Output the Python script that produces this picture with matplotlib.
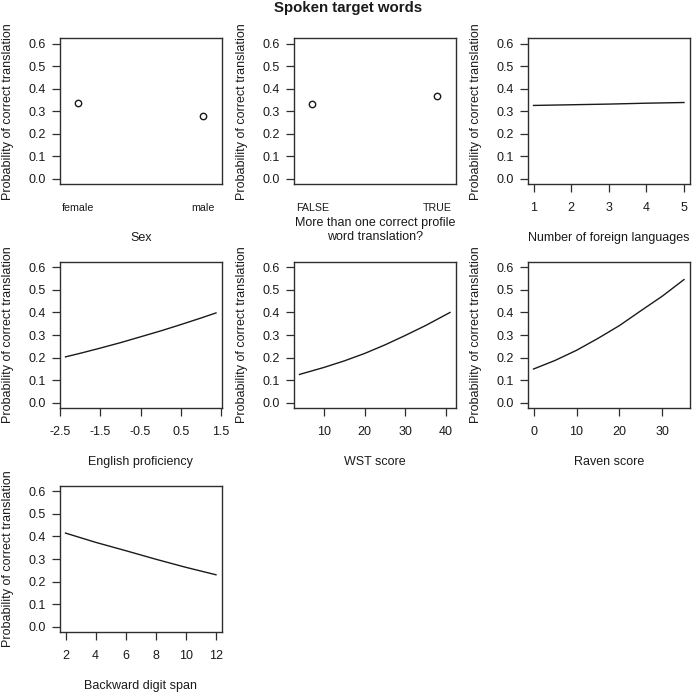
import matplotlib
matplotlib.use("Agg")
import matplotlib.pyplot as plt

plt.rcParams['font.family'] = ['Liberation Sans', 'DejaVu Sans']

# ---- data ----
title = "Spoken target words"
ylabel = "Probability of correct translation"
yticks = [0.0, 0.1, 0.2, 0.3, 0.4, 0.5, 0.6]

sex_levels = ["female", "male"]
sex_prob = [0.335, 0.281]

profile_levels = ["FALSE", "TRUE"]
profile_prob = [0.333, 0.370]

lang_x = [1, 2, 3, 4, 5]
lang_y = [0.326, 0.329, 0.332, 0.336, 0.339]
lang_ticks = [1, 2, 3, 4, 5]

eng_x = [-2.37, -2.0, -1.5, -1.0, -0.5, 0.0, 0.5, 1.0, 1.38]
eng_y = [0.203, 0.219, 0.242, 0.266, 0.292, 0.318, 0.346, 0.375, 0.398]
eng_ticks = [-2.5, -1.5, -0.5, 0.5, 1.5]

wst_x = [4, 10, 15, 20, 25, 30, 35, 41]
wst_y = [0.125, 0.156, 0.185, 0.218, 0.256, 0.298, 0.342, 0.400]
wst_ticks = [10, 20, 30, 40]

raven_x = [0, 5, 10, 15, 20, 25, 30, 35]
raven_y = [0.149, 0.187, 0.232, 0.285, 0.342, 0.408, 0.473, 0.546]
raven_ticks = [0, 10, 20, 30]

span_x = [2, 4, 6, 8, 10, 12]
span_y = [0.415, 0.374, 0.337, 0.299, 0.263, 0.230]
span_ticks = [2, 4, 6, 8, 10, 12]

panels = [
    dict(kind="cat", levels=sex_levels, y=sex_prob, xlabel="Sex"),
    dict(kind="cat", levels=profile_levels, y=profile_prob,
         xlabel="More than one correct profile\nword translation?"),
    dict(kind="line", x=lang_x, y=lang_y, ticks=lang_ticks, xlabel="Number of foreign languages"),
    dict(kind="line", x=eng_x, y=eng_y, ticks=eng_ticks, xlabel="English proficiency"),
    dict(kind="line", x=wst_x, y=wst_y, ticks=wst_ticks, xlabel="WST score"),
    dict(kind="line", x=raven_x, y=raven_y, ticks=raven_ticks, xlabel="Raven score"),
    dict(kind="line", x=span_x, y=span_y, ticks=span_ticks, xlabel="Backward digit span"),
]

# ---- layout ----
W, H = 693, 696
fig = plt.figure(figsize=(W / 100, H / 100), dpi=100)
col_left = [59.5, 293.5, 527.5]
row_top = [38.3, 262.0, 486.0]
aw, ah = 162.5, 146.0
ink = "#1a1a1a"
frame_c = "#2e2e2e"

def expand(lo, hi, f=0.04):
    d = (hi - lo) * f
    return lo - d, hi + d

for i, p in enumerate(panels):
    r, c = divmod(i, 3)
    left = col_left[c] / W
    bottom = 1 - (row_top[r] + ah) / H
    ax = fig.add_axes([left, bottom, aw / W, ah / H])
    ax.set_ylim(*expand(0.0, 0.6))
    ax.set_yticks(yticks)
    ax.set_yticklabels([f"{t:.1f}" for t in yticks])
    for s in ax.spines.values():
        s.set_color(frame_c)
        s.set_linewidth(1.0)
    ax.tick_params(axis='y', length=5.5, width=0.9, color=frame_c, pad=4.5,
                   labelsize=9, labelcolor=ink)
    if p["kind"] == "cat":
        pos = list(range(1, len(p["levels"]) + 1))
        ax.plot(pos, p["y"], linestyle='none', marker='o', markersize=4.6,
                markerfacecolor='white', markeredgecolor=ink, markeredgewidth=1.0)
        ax.set_xlim(0.848, 2.152)
        ax.set_xticks(pos)
        ax.set_xticklabels(p["levels"])
        ax.tick_params(axis='x', length=0, pad=13.5, labelsize=7.7, labelcolor=ink)
    else:
        ax.plot(p["x"], p["y"], color=ink, linewidth=1.0)
        ax.set_xlim(*expand(min(p["x"]), max(p["x"])))
        ax.set_xticks(p["ticks"])
        ax.set_xticklabels([f"{t:g}" for t in p["ticks"]])
        ax.tick_params(axis='x', length=6.0, width=0.9, color=frame_c, pad=7.0,
                       labelsize=9, labelcolor=ink)
    nlines = p["xlabel"].count("\n") + 1
    off = -54 + (nlines - 1) * 8.0
    ax.annotate(p["xlabel"], xy=(0.5, 0), xycoords='axes fraction',
                xytext=(0, off * 72 / 100), textcoords='offset points',
                ha='center', va='center', fontsize=9, color=ink, linespacing=1.2)
    ax.annotate(ylabel, xy=(0, 0.5), xycoords='axes fraction',
                xytext=(-51.5 * 72 / 100, 0), textcoords='offset points',
                ha='center', va='center', rotation=90, fontsize=9, color=ink)

fig.text(348 / W, 1 - 8 / H, title, ha='center', va='center',
         fontsize=10.8, fontweight='bold', color=ink)

fig.savefig("out.png", dpi=100)
